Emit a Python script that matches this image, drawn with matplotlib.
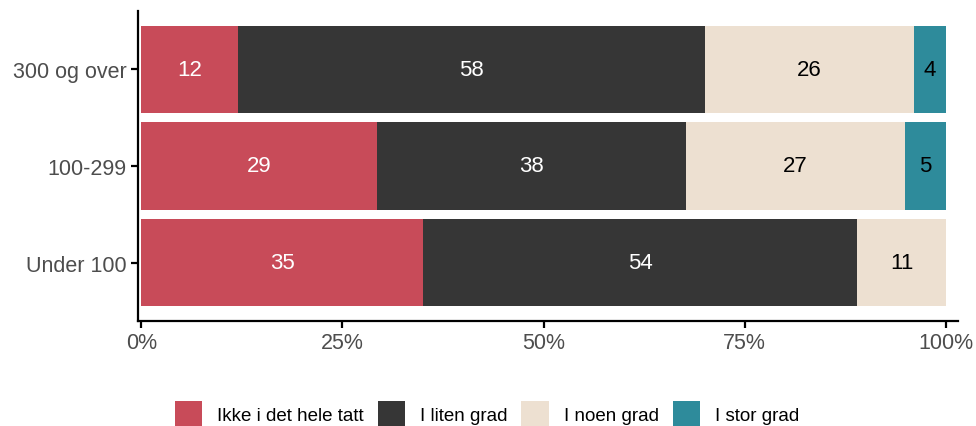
import matplotlib
matplotlib.use("Agg")
import matplotlib.pyplot as plt
from matplotlib.patches import Patch
import numpy as np

plt.rcParams["font.family"] = ["Liberation Sans", "DejaVu Sans"]

groups = ["Under 100", "100-299", "300 og over"]
series = ["Ikke i det hele tatt", "I liten grad", "I noen grad", "I stor grad"]
values = {
    "Ikke i det hele tatt": [35, 29, 12],
    "I liten grad": [54, 38, 58],
    "I noen grad": [11, 27, 26],
    "I stor grad": [0, 5, 4],
}
colors = ["#C84B59", "#363636", "#EDE0D1", "#2E8B9B"]
label_colors = ["white", "white", "black", "black"]
xticks = [0, 25, 50, 75, 100]
xticklabels = ["0%", "25%", "50%", "75%", "100%"]

fig = plt.figure(figsize=(9.76, 4.27), dpi=100)
ax = fig.add_axes([138 / 976, (427 - 322) / 427, (958 - 138) / 976, (322 - 12) / 427])

data = np.array([values[s] for s in series], dtype=float)
totals = data.sum(axis=0)
shares = data / totals * 100
y = np.arange(1, len(groups) + 1)
left = np.zeros(len(groups))
for i, s in enumerate(series):
    ax.barh(y, shares[i], left=left, height=0.9, color=colors[i], edgecolor="none")
    for j in range(len(groups)):
        if data[i, j] > 0:
            ax.text(left[j] + shares[i, j] / 2, y[j], f"{int(data[i, j])}",
                    ha="center", va="center", fontsize=16, color=label_colors[i])
    left += shares[i]

ax.set_xlim(-0.4, 101.5)
ax.set_ylim(0.4, 3.6)
ax.set_yticks(y)
ax.set_yticklabels(groups)
ax.set_xticks(xticks)
ax.set_xticklabels(xticklabels)
for side in ["top", "right"]:
    ax.spines[side].set_visible(False)
for side in ["left", "bottom"]:
    ax.spines[side].set_linewidth(1.6)
    ax.spines[side].set_color("black")
ax.tick_params(axis="both", labelsize=15.5, labelcolor="#4D4D4D", length=5, width=1.6, color="black")
ax.tick_params(axis="x", pad=3)
ax.tick_params(axis="y", pad=3)

handles = [Patch(facecolor=c, edgecolor="none") for c in colors]
fig.legend(handles, series, loc="center", bbox_to_anchor=(0.499, 0.028), ncol=4,
           frameon=False, fontsize=13.5, handlelength=1.45, handleheight=1.8,
           handletextpad=0.8, columnspacing=0.75, borderpad=0)

fig.savefig("out.png", dpi=100)
